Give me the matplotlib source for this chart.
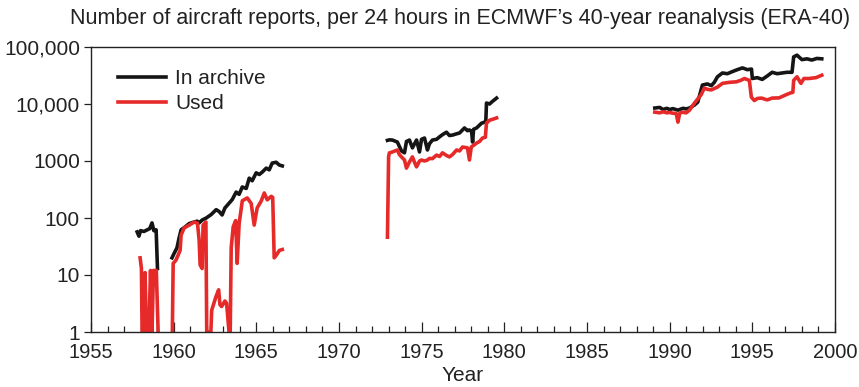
import numpy as np
import matplotlib
matplotlib.use("Agg")
import matplotlib.pyplot as plt
from matplotlib.ticker import FixedLocator, MultipleLocator

plt.rcParams['font.family'] = ['Liberation Sans', 'DejaVu Sans']

TITLE = "Number of aircraft reports, per 24 hours in ECMWF\u2019s 40-year reanalysis (ERA-40)"

# ---- "In archive" series, one list pair per period of coverage ----
arch_yr_a = [1957.79, 1957.9, 1958.0, 1958.2, 1958.4, 1958.55, 1958.69, 1958.8, 1958.94, 1959.02]
arch_val_a = [57, 48, 60, 58, 62, 65, 82, 60, 62, 13]

arch_yr_b = [1959.9, 1960.03, 1960.2, 1960.33, 1960.45, 1960.7, 1960.94, 1961.24, 1961.42,
             1961.54, 1961.72, 1961.97, 1962.27, 1962.57, 1962.75, 1962.93, 1963.1, 1963.36,
             1963.54, 1963.78, 1963.96, 1964.15, 1964.39, 1964.57, 1964.75, 1964.99, 1965.18,
             1965.36, 1965.6, 1965.78, 1965.96, 1966.2, 1966.39, 1966.57]
arch_val_b = [20, 24, 30, 45, 62, 70, 80, 85, 88, 82, 92, 100, 115, 140, 130, 113, 150, 183,
              210, 285, 260, 350, 330, 500, 450, 620, 580, 640, 750, 700, 920, 950, 850, 820]

arch_yr_c = [1972.93, 1973.05, 1973.23, 1973.53, 1973.78, 1973.96, 1974.08, 1974.26, 1974.44,
             1974.69, 1974.87, 1974.99, 1975.17, 1975.35, 1975.47, 1975.65, 1975.9, 1976.08,
             1976.26, 1976.5, 1976.68, 1976.87, 1977.11, 1977.29, 1977.59, 1977.77, 1977.89,
             1978.02, 1978.08, 1978.14, 1978.32, 1978.62, 1978.8, 1978.88, 1978.92, 1979.11,
             1979.23, 1979.53]
arch_val_c = [2300, 2350, 2330, 2150, 1500, 1390, 2200, 2330, 1700, 2330, 1440, 2400, 2530,
              1560, 2000, 2330, 2400, 2650, 2900, 3200, 2800, 2850, 3000, 3100, 3800, 3400,
              3500, 3300, 2150, 3600, 3800, 4600, 4800, 5000, 10400, 10000, 10800, 12700]

arch_yr_d = [1989.1, 1989.4, 1989.6, 1989.83, 1990.0, 1990.19, 1990.5, 1990.8, 1991.0, 1991.2,
             1991.5, 1991.7, 1991.98, 1992.28, 1992.52, 1992.7, 1992.89, 1993.19, 1993.49,
             1993.79, 1994.09, 1994.4, 1994.7, 1994.95, 1995.0, 1995.3, 1995.6, 1995.9,
             1996.2, 1996.5, 1996.8, 1997.09, 1997.4, 1997.5, 1997.7, 1998.0, 1998.3, 1998.6,
             1998.9, 1999.2]
arch_val_d = [8500, 8700, 8000, 8400, 8000, 8300, 7800, 8400, 8200, 8500, 9600, 10800, 21500,
              22500, 21000, 24000, 30000, 35000, 34000, 37000, 40000, 43000, 40000, 41000,
              28000, 29000, 27000, 31000, 36000, 34000, 35000, 36000, 36000, 67000, 72000,
              60000, 62000, 59000, 63000, 62000]

# ---- "Used" series ----
used_yr_a = [1957.97, 1958.05, 1958.09, 1958.2, 1958.27, 1958.35, 1958.5, 1958.6, 1958.69,
             1958.78, 1958.95, 1959.06]
used_val_a = [20, 13, 1, 1, 11, 1, 1, 12, 1, 12, 12, 1]

used_yr_b = [1959.92, 1959.97, 1960.13, 1960.39, 1960.45, 1960.63, 1960.94, 1961.24, 1961.44,
             1961.54, 1961.6, 1961.72, 1961.78, 1961.95, 1962.0, 1962.25, 1962.3, 1962.55,
             1962.72, 1962.8, 1962.9, 1963.1, 1963.2, 1963.35, 1963.42, 1963.48, 1963.6,
             1963.75, 1963.84, 1963.96, 1964.15, 1964.45, 1964.69, 1964.87, 1965.05, 1965.3,
             1965.48, 1965.66, 1965.9, 1965.99, 1966.08, 1966.2, 1966.39, 1966.57]
used_val_b = [1, 16, 18, 27, 50, 67, 75, 85, 81, 41, 15, 13, 75, 85, 1, 1, 2.4, 4.1, 5.5, 3.0,
              2.8, 3.5, 3.2, 1, 1, 30, 70, 90, 16, 80, 200, 225, 180, 75, 150, 200, 275, 208,
              240, 230, 20, 22, 27, 28]

used_yr_c = [1972.93, 1973.0, 1973.05, 1973.23, 1973.53, 1973.65, 1973.78, 1973.96, 1974.08,
             1974.26, 1974.44, 1974.6, 1974.69, 1974.87, 1974.99, 1975.17, 1975.35, 1975.47,
             1975.65, 1975.9, 1976.08, 1976.26, 1976.5, 1976.68, 1976.87, 1977.11, 1977.29,
             1977.47, 1977.77, 1977.89, 1978.0, 1978.32, 1978.5, 1978.68, 1978.85, 1978.92,
             1979.11, 1979.3, 1979.53]
used_val_c = [46, 1200, 1390, 1440, 1560, 1300, 1180, 1040, 750, 960, 1180, 900, 790, 1000,
              1040, 1000, 1040, 1110, 1100, 1270, 1200, 1390, 1250, 1180, 1300, 1560, 1500,
              1760, 1700, 1040, 1760, 2060, 2200, 2530, 2600, 4600, 5200, 5400, 5700]

used_yr_d = [1989.1, 1989.4, 1989.6, 1989.83, 1990.0, 1990.19, 1990.4, 1990.5, 1990.6,
             1990.74, 1991.0, 1991.2, 1991.5, 1991.9, 1992.1, 1992.3, 1992.52, 1992.89,
             1993.19, 1993.61, 1994.03, 1994.3, 1994.52, 1994.82, 1994.94, 1995.12, 1995.3,
             1995.55, 1995.9, 1996.2, 1996.62, 1997.03, 1997.3, 1997.45, 1997.5, 1997.7,
             1997.94, 1998.12, 1998.42, 1998.85, 1999.2]
used_val_d = [7200, 7000, 7300, 7000, 7100, 6900, 6800, 4800, 6800, 7200, 7000, 7800, 10400,
              14500, 19000, 18000, 17700, 19800, 23000, 24000, 24500, 26000, 28000, 26000,
              13200, 11500, 12500, 12700, 11800, 12700, 12800, 14500, 15600, 16000, 26000,
              30000, 23000, 28000, 28000, 29000, 32000]

y_ticks = [1, 10, 100, 1000, 10000, 100000]
y_tick_labels = ["1", "10", "100", "1000", "10,000", "100,000"]
x_ticks = [1955, 1960, 1965, 1970, 1975, 1980, 1985, 1990, 1995, 2000]


def joined(pairs):
    """Concatenate period segments with NaN breaks between them."""
    xs, ys = [], []
    for x, y in pairs:
        xs += list(x) + [np.nan]
        ys += list(y) + [np.nan]
    return np.array(xs, float), np.array(ys, float)


ax_x, ax_y = joined([(arch_yr_a, arch_val_a), (arch_yr_b, arch_val_b),
                     (arch_yr_c, arch_val_c), (arch_yr_d, arch_val_d)])
us_x, us_y = joined([(used_yr_a, used_val_a), (used_yr_b, used_val_b),
                     (used_yr_c, used_val_c), (used_yr_d, used_val_d)])

BLACK = "#151515"
RED = "#e62a2a"
TEXT = "#222222"
FS = 15

fig = plt.figure(figsize=(8.59, 3.87), dpi=100)
ax = fig.add_axes([91 / 859, 55 / 387, 744 / 859, 285 / 387])

ax.plot(ax_x, ax_y, color=BLACK, lw=2.6, solid_joinstyle="round", label="In archive")
ax.plot(us_x, us_y, color=RED, lw=2.6, solid_joinstyle="round", label="Used")

ax.set_yscale("log")
ax.set_ylim(1, 100000)
ax.set_xlim(1955, 2000)
ax.yaxis.set_major_locator(FixedLocator(y_ticks))
ax.yaxis.set_minor_locator(FixedLocator([]))
ax.set_yticklabels(y_tick_labels)
ax.set_xticks(x_ticks)
ax.xaxis.set_minor_locator(MultipleLocator(1))

ax.tick_params(axis="x", which="major", direction="in", length=7, width=0.9,
               labelsize=FS - 0.5, pad=8, colors=TEXT)
ax.tick_params(axis="x", which="minor", direction="in", length=4.5, width=0.9,
               colors=TEXT)
ax.tick_params(axis="y", which="major", direction="out", length=5, width=0.9,
               labelsize=FS, pad=3, colors=TEXT)
for s in ax.spines.values():
    s.set_linewidth(1.0)
    s.set_color(TEXT)

ax.set_xlabel("Year", fontsize=FS, labelpad=3, color=TEXT)
fig.text(0.536, 0.953, TITLE, ha="center", va="center", fontsize=FS + 0.5, color=TEXT)

leg = ax.legend(loc="upper left", bbox_to_anchor=(-0.003, 1.025), frameon=False,
                fontsize=FS, handlelength=2.3, handletextpad=0.45,
                labelspacing=0.3, borderaxespad=1.0)
for t in leg.get_texts():
    t.set_color(TEXT)

fig.savefig("out.png", dpi=100)
